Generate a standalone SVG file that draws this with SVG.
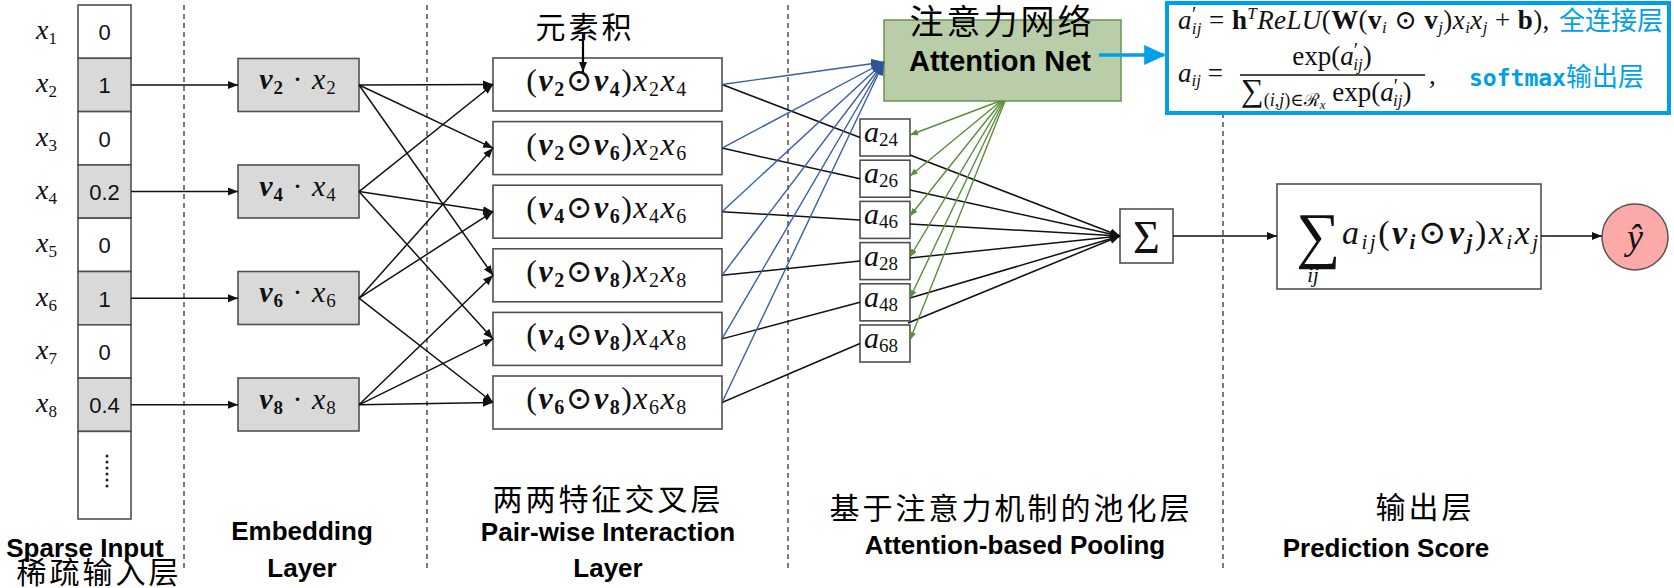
<svg xmlns="http://www.w3.org/2000/svg" width="1674" height="588" viewBox="0 0 1674 588">
<style>
.bx{fill:#fff;stroke:#505050;stroke-width:1.6}
.gr{fill:#d9d9d9;stroke:#505050;stroke-width:1.6}
.m{font-family:"Liberation Serif","DejaVu Serif",serif;font-style:italic;fill:#111}
.r{font-family:"Liberation Serif","DejaVu Serif",serif;fill:#111}
.num{font-family:"Liberation Sans",Arial,sans-serif;font-size:22px;fill:#111;text-anchor:middle}
.lab{font-family:"Liberation Sans",Arial,sans-serif;font-weight:bold;font-size:26px;fill:#000;text-anchor:middle}
.cn{font-family:"Noto Sans CJK SC",sans-serif;font-size:30px;letter-spacing:3px;fill:#000;text-anchor:middle}
.dash{stroke:#444;stroke-width:1.4;stroke-dasharray:5 4;fill:none}
.k{stroke:#111;stroke-width:1.5;fill:none}
.bl{stroke:#3a5ea5;stroke-width:1.4;fill:none}
.gn{stroke:#5b8d3b;stroke-width:1.4;fill:none}
</style>
<defs>
<marker id="ak" viewBox="0 0 10 10" refX="10" refY="5" markerWidth="10" markerHeight="10" orient="auto" markerUnits="userSpaceOnUse"><path d="M0,1 L10,5 L0,9 z" fill="#111"/></marker>
<marker id="ab" viewBox="0 0 10 10" refX="10" refY="5" markerWidth="13" markerHeight="13" orient="auto" markerUnits="userSpaceOnUse"><path d="M0,1 L10,5 L0,9 z" fill="#2f5597"/></marker>
<marker id="ag" viewBox="0 0 10 10" refX="10" refY="5" markerWidth="8" markerHeight="8" orient="auto" markerUnits="userSpaceOnUse"><path d="M0,1 L10,5 L0,9 z" fill="#5b8d3b"/></marker>
<marker id="ac" viewBox="0 0 10 10" refX="9" refY="5" markerWidth="22" markerHeight="22" orient="auto" markerUnits="userSpaceOnUse"><path d="M0,0.5 L10,5 L0,9.5 z" fill="#00a0e9"/></marker>
</defs>
<rect width="1674" height="588" fill="#fff"/>

<!-- dashed separators -->
<g id="separators">
<line class="dash" x1="184" y1="5" x2="184" y2="572"/>
<line class="dash" x1="427" y1="5" x2="427" y2="570"/>
<line class="dash" x1="788" y1="5" x2="788" y2="570"/>
<line class="dash" x1="1223" y1="113" x2="1223" y2="570"/>
</g>

<!-- sparse input -->
<g id="sparse-input">
<rect class="bx" x="78" y="5" width="53" height="53.3"/>
<rect class="gr" x="78" y="58.3" width="53" height="53.3"/>
<rect class="bx" x="78" y="111.6" width="53" height="53.3"/>
<rect class="gr" x="78" y="164.9" width="53" height="53.3"/>
<rect class="bx" x="78" y="218.2" width="53" height="53.3"/>
<rect class="gr" x="78" y="271.5" width="53" height="53.3"/>
<rect class="bx" x="78" y="324.8" width="53" height="53.3"/>
<rect class="gr" x="78" y="378.1" width="53" height="53.3"/>
<rect class="bx" x="78" y="431.4" width="53" height="87.6"/>
<line x1="107" y1="456" x2="107" y2="491" stroke="#222" stroke-width="3" stroke-dasharray="0 6" stroke-linecap="round"/>
<text class="num" x="104.5" y="40">0</text>
<text class="num" x="104.5" y="93">1</text>
<text class="num" x="104.5" y="147">0</text>
<text class="num" x="104.5" y="200">0.2</text>
<text class="num" x="104.5" y="253">0</text>
<text class="num" x="104.5" y="307">1</text>
<text class="num" x="104.5" y="360">0</text>
<text class="num" x="104.5" y="413">0.4</text>
<g class="m" font-size="28">
<text x="36" y="39">x<tspan font-size="17" font-style="normal" dy="5">1</tspan></text>
<text x="36" y="92">x<tspan font-size="17" font-style="normal" dy="5">2</tspan></text>
<text x="36" y="146">x<tspan font-size="17" font-style="normal" dy="5">3</tspan></text>
<text x="36" y="199">x<tspan font-size="17" font-style="normal" dy="5">4</tspan></text>
<text x="36" y="252">x<tspan font-size="17" font-style="normal" dy="5">5</tspan></text>
<text x="36" y="306">x<tspan font-size="17" font-style="normal" dy="5">6</tspan></text>
<text x="36" y="359">x<tspan font-size="17" font-style="normal" dy="5">7</tspan></text>
<text x="36" y="412">x<tspan font-size="17" font-style="normal" dy="5">8</tspan></text>
</g>
<text class="lab" x="85" y="557">Sparse Input</text>
<text class="cn" x="99" y="583">稀疏输入层</text>
</g>

<!-- embedding layer -->
<g id="embedding">
<rect class="gr" x="238" y="58.5" width="121" height="53"/>
<rect class="gr" x="238" y="165" width="121" height="53"/>
<rect class="gr" x="238" y="271.5" width="121" height="53"/>
<rect class="gr" x="238" y="378" width="121" height="53"/>
<g class="m" font-size="30" text-anchor="middle" letter-spacing="1">
<text x="298" y="89"><tspan font-weight="bold">v</tspan><tspan font-size="19" font-weight="bold" font-style="normal" dy="5">2</tspan><tspan dy="-5" font-style="normal"> · </tspan>x<tspan font-size="19" font-style="normal" dy="5">2</tspan></text>
<text x="298" y="196"><tspan font-weight="bold">v</tspan><tspan font-size="19" font-weight="bold" font-style="normal" dy="5">4</tspan><tspan dy="-5" font-style="normal"> · </tspan>x<tspan font-size="19" font-style="normal" dy="5">4</tspan></text>
<text x="298" y="302"><tspan font-weight="bold">v</tspan><tspan font-size="19" font-weight="bold" font-style="normal" dy="5">6</tspan><tspan dy="-5" font-style="normal"> · </tspan>x<tspan font-size="19" font-style="normal" dy="5">6</tspan></text>
<text x="298" y="409"><tspan font-weight="bold">v</tspan><tspan font-size="19" font-weight="bold" font-style="normal" dy="5">8</tspan><tspan dy="-5" font-style="normal"> · </tspan>x<tspan font-size="19" font-style="normal" dy="5">8</tspan></text>
</g>
<text class="lab" x="302" y="540">Embedding</text>
<text class="lab" x="302" y="577">Layer</text>
</g>

<!-- pair-wise interaction layer -->
<g id="interaction">
<rect class="bx" x="493" y="58" width="229" height="53"/>
<rect class="bx" x="493" y="121.6" width="229" height="53"/>
<rect class="bx" x="493" y="185.2" width="229" height="53"/>
<rect class="bx" x="493" y="248.8" width="229" height="53"/>
<rect class="bx" x="493" y="312.4" width="229" height="53"/>
<rect class="bx" x="493" y="376" width="229" height="53"/>
<g class="m" font-size="32" text-anchor="middle" letter-spacing="1.5">
<text x="607" y="91"><tspan font-style="normal">(</tspan><tspan font-weight="bold">v</tspan><tspan font-size="20" font-weight="bold" font-style="normal" dy="5">2</tspan><tspan dy="-5" font-style="normal">⊙</tspan><tspan font-weight="bold">v</tspan><tspan font-size="20" font-weight="bold" font-style="normal" dy="5">4</tspan><tspan dy="-5" font-style="normal">)</tspan>x<tspan font-size="20" font-style="normal" dy="5">2</tspan><tspan dy="-5">x</tspan><tspan font-size="20" font-style="normal" dy="5">4</tspan></text>
<text x="607" y="154.6"><tspan font-style="normal">(</tspan><tspan font-weight="bold">v</tspan><tspan font-size="20" font-weight="bold" font-style="normal" dy="5">2</tspan><tspan dy="-5" font-style="normal">⊙</tspan><tspan font-weight="bold">v</tspan><tspan font-size="20" font-weight="bold" font-style="normal" dy="5">6</tspan><tspan dy="-5" font-style="normal">)</tspan>x<tspan font-size="20" font-style="normal" dy="5">2</tspan><tspan dy="-5">x</tspan><tspan font-size="20" font-style="normal" dy="5">6</tspan></text>
<text x="607" y="218.2"><tspan font-style="normal">(</tspan><tspan font-weight="bold">v</tspan><tspan font-size="20" font-weight="bold" font-style="normal" dy="5">4</tspan><tspan dy="-5" font-style="normal">⊙</tspan><tspan font-weight="bold">v</tspan><tspan font-size="20" font-weight="bold" font-style="normal" dy="5">6</tspan><tspan dy="-5" font-style="normal">)</tspan>x<tspan font-size="20" font-style="normal" dy="5">4</tspan><tspan dy="-5">x</tspan><tspan font-size="20" font-style="normal" dy="5">6</tspan></text>
<text x="607" y="281.8"><tspan font-style="normal">(</tspan><tspan font-weight="bold">v</tspan><tspan font-size="20" font-weight="bold" font-style="normal" dy="5">2</tspan><tspan dy="-5" font-style="normal">⊙</tspan><tspan font-weight="bold">v</tspan><tspan font-size="20" font-weight="bold" font-style="normal" dy="5">8</tspan><tspan dy="-5" font-style="normal">)</tspan>x<tspan font-size="20" font-style="normal" dy="5">2</tspan><tspan dy="-5">x</tspan><tspan font-size="20" font-style="normal" dy="5">8</tspan></text>
<text x="607" y="345.4"><tspan font-style="normal">(</tspan><tspan font-weight="bold">v</tspan><tspan font-size="20" font-weight="bold" font-style="normal" dy="5">4</tspan><tspan dy="-5" font-style="normal">⊙</tspan><tspan font-weight="bold">v</tspan><tspan font-size="20" font-weight="bold" font-style="normal" dy="5">8</tspan><tspan dy="-5" font-style="normal">)</tspan>x<tspan font-size="20" font-style="normal" dy="5">4</tspan><tspan dy="-5">x</tspan><tspan font-size="20" font-style="normal" dy="5">8</tspan></text>
<text x="607" y="409"><tspan font-style="normal">(</tspan><tspan font-weight="bold">v</tspan><tspan font-size="20" font-weight="bold" font-style="normal" dy="5">6</tspan><tspan dy="-5" font-style="normal">⊙</tspan><tspan font-weight="bold">v</tspan><tspan font-size="20" font-weight="bold" font-style="normal" dy="5">8</tspan><tspan dy="-5" font-style="normal">)</tspan>x<tspan font-size="20" font-style="normal" dy="5">6</tspan><tspan dy="-5">x</tspan><tspan font-size="20" font-style="normal" dy="5">8</tspan></text>
</g>
<text class="cn" x="585" y="38">元素积</text>
<line x1="583" y1="32" x2="583" y2="72" stroke="#000" stroke-width="2.2" marker-end="url(#ak)"/>
<text class="cn" x="608" y="510">两两特征交叉层</text>
<text class="lab" x="608" y="541">Pair-wise Interaction</text>
<text class="lab" x="608" y="577">Layer</text>
</g>

<!-- attention net -->
<g id="attention-net">
<rect x="884" y="20" width="237" height="81" fill="#b8cda8" stroke="#6f9a55" stroke-width="1.6"/>
<text x="1002" y="34" font-family="'Noto Sans CJK SC',sans-serif" font-size="34" letter-spacing="3" text-anchor="middle" fill="#000">注意力网络</text>
<text class="lab" x="1000" y="71" style="font-size:29px">Attention Net</text>
</g>

<!-- attention weights -->
<g id="attention-weights">
<rect class="bx" x="860" y="119" width="50" height="37"/>
<rect class="bx" x="860" y="160.2" width="50" height="37"/>
<rect class="bx" x="860" y="201.4" width="50" height="37"/>
<rect class="bx" x="860" y="242.6" width="50" height="37"/>
<rect class="bx" x="860" y="283.8" width="50" height="37"/>
<rect class="bx" x="860" y="325" width="50" height="37"/>
<g class="m" font-size="30">
<text x="864" y="142">a<tspan font-size="19" font-style="normal" dy="4">24</tspan></text>
<text x="864" y="183.2">a<tspan font-size="19" font-style="normal" dy="4">26</tspan></text>
<text x="864" y="224.4">a<tspan font-size="19" font-style="normal" dy="4">46</tspan></text>
<text x="864" y="265.6">a<tspan font-size="19" font-style="normal" dy="4">28</tspan></text>
<text x="864" y="306.8">a<tspan font-size="19" font-style="normal" dy="4">48</tspan></text>
<text x="864" y="348">a<tspan font-size="19" font-style="normal" dy="4">68</tspan></text>
</g>
<text class="cn" x="1011" y="519">基于注意力机制的池化层</text>
<text class="lab" x="1015" y="554">Attention-based Pooling</text>
</g>

<!-- sum -->
<g id="sum">
<rect class="bx" x="1120" y="209" width="53" height="54"/>
<text class="r" x="1146.5" y="253" font-size="46" text-anchor="middle">Σ</text>
</g>

<!-- formula box -->
<g id="formula">
<rect x="1167" y="3" width="502" height="110" fill="#fff" stroke="#00a0e9" stroke-width="4"/>
<text class="r" x="1178" y="29" font-size="27" letter-spacing="0.4"><tspan font-style="italic">a</tspan><tspan font-size="20" dy="-8">′</tspan><tspan font-size="17" font-style="italic" dx="-5" dy="13">ij</tspan><tspan dy="-5"> = </tspan><tspan font-weight="bold">h</tspan><tspan font-size="17" font-style="italic" dy="-10">T</tspan><tspan font-style="italic" dy="10">ReLU</tspan>(<tspan font-weight="bold">W</tspan>(<tspan font-weight="bold">v</tspan><tspan font-size="17" font-style="italic" dy="4">i</tspan><tspan dy="-4"> ⊙ </tspan><tspan font-weight="bold">v</tspan><tspan font-size="17" font-style="italic" dy="4">j</tspan><tspan dy="-4">)</tspan><tspan font-style="italic">x</tspan><tspan font-size="17" font-style="italic" dy="4">i</tspan><tspan font-style="italic" dy="-4">x</tspan><tspan font-size="17" font-style="italic" dy="4">j</tspan><tspan dy="-4"> + </tspan><tspan font-weight="bold">b</tspan>),</text>
<text x="1559" y="30" font-family="'Noto Sans CJK SC',sans-serif" font-size="26" fill="#00a0e9">全连接层</text>
<text class="r" x="1178" y="82" font-size="27"><tspan font-style="italic">a</tspan><tspan font-size="17" font-style="italic" dy="4">ij</tspan><tspan dy="-4"> =</tspan></text>
<text class="r" x="1332" y="65" font-size="27" text-anchor="middle">exp(<tspan font-style="italic">a</tspan><tspan font-size="20" dy="-8">′</tspan><tspan font-size="17" font-style="italic" dx="-5" dy="13">ij</tspan><tspan dy="-5">)</tspan></text>
<line x1="1240" y1="75" x2="1425" y2="75" stroke="#111" stroke-width="1.3"/>
<text class="r" x="1241" y="101" font-size="27"><tspan font-size="32">∑</tspan><tspan font-size="18" dy="5">(<tspan font-style="italic">i</tspan>,<tspan font-style="italic">j</tspan>)∈ℛ</tspan><tspan font-size="13" font-style="italic" dy="3">x</tspan><tspan dy="-8"> exp(</tspan><tspan font-style="italic">a</tspan><tspan font-size="20" dy="-8">′</tspan><tspan font-size="17" font-style="italic" dx="-5" dy="13">ij</tspan><tspan dy="-5">)</tspan></text>
<text class="r" x="1429" y="84" font-size="27">,</text>
<text x="1469" y="86" fill="#00a0e9"><tspan font-family="'DejaVu Sans Mono','Liberation Mono',monospace" font-weight="bold" font-size="23">softmax</tspan><tspan font-family="'Noto Sans CJK SC',sans-serif" font-size="26">输出层</tspan></text>
</g>

<!-- prediction -->
<g id="prediction">
<rect class="bx" x="1277" y="184" width="264" height="105"/>
<text class="r" x="1296" y="256" font-size="62">∑</text>
<text class="m" x="1313" y="282" font-size="21" text-anchor="middle">ij</text>
<text class="m" x="1342" y="244" font-size="34" letter-spacing="2.5">a<tspan font-size="21" dy="5">ij</tspan><tspan font-style="normal" dy="-5">(</tspan><tspan font-weight="bold">v</tspan><tspan font-size="21" font-weight="bold" dy="5">i</tspan><tspan font-style="normal" dy="-5">⊙</tspan><tspan font-weight="bold">v</tspan><tspan font-size="21" font-weight="bold" dy="5">j</tspan><tspan font-style="normal" dy="-5">)</tspan>x<tspan font-size="21" dy="5">i</tspan><tspan dy="-5">x</tspan><tspan font-size="21" dy="5">j</tspan></text>
<text class="cn" x="1425" y="518">输出层</text>
<text class="lab" x="1386" y="557">Prediction Score</text>
</g>

<g id="output">
<circle cx="1635" cy="237" r="33" fill="#fba9a9" stroke="#555" stroke-width="1.5"/>
<text class="m" x="1635" y="249" font-size="36" text-anchor="middle">ŷ</text>
</g>

<!-- connectors -->
<g id="connectors">
<g class="k" marker-end="url(#ak)">
<line x1="131" y1="85" x2="238" y2="85"/>
<line x1="131" y1="191.6" x2="238" y2="191.6"/>
<line x1="131" y1="298.2" x2="238" y2="298.2"/>
<line x1="131" y1="404.8" x2="238" y2="404.8"/>
<line x1="359" y1="85" x2="493" y2="84.5"/>
<line x1="359" y1="85" x2="493" y2="148.1"/>
<line x1="359" y1="85" x2="493" y2="275.3"/>
<line x1="359" y1="191.6" x2="493" y2="84.5"/>
<line x1="359" y1="191.6" x2="493" y2="211.7"/>
<line x1="359" y1="191.6" x2="493" y2="338.9"/>
<line x1="359" y1="298.2" x2="493" y2="148.1"/>
<line x1="359" y1="298.2" x2="493" y2="211.7"/>
<line x1="359" y1="298.2" x2="493" y2="402.5"/>
<line x1="359" y1="404.8" x2="493" y2="275.3"/>
<line x1="359" y1="404.8" x2="493" y2="338.9"/>
<line x1="359" y1="404.8" x2="493" y2="402.5"/>
<line x1="910" y1="155" x2="1120" y2="236"/>
<line x1="910" y1="190" x2="1120" y2="236"/>
<line x1="910" y1="224" x2="1120" y2="236"/>
<line x1="910" y1="258" x2="1120" y2="236"/>
<line x1="910" y1="298" x2="1120" y2="236"/>
<line x1="908" y1="323" x2="1120" y2="236"/>
<line x1="1173" y1="236" x2="1277" y2="236"/>
<line x1="1541" y1="236" x2="1602" y2="236"/>
</g>
<g class="k">
<line x1="722" y1="84.5" x2="860" y2="137.5"/>
<line x1="722" y1="148.1" x2="860" y2="178.7"/>
<line x1="722" y1="211.7" x2="860" y2="219.9"/>
<line x1="722" y1="275.3" x2="860" y2="261.1"/>
<line x1="722" y1="338.9" x2="860" y2="302.3"/>
<line x1="722" y1="402.5" x2="860" y2="343.5"/>
</g>
<g class="bl" marker-end="url(#ab)">
<line x1="722" y1="84.5" x2="884" y2="62"/>
<line x1="722" y1="148.1" x2="884" y2="62"/>
<line x1="722" y1="211.7" x2="884" y2="62"/>
<line x1="722" y1="275.3" x2="884" y2="62"/>
<line x1="722" y1="338.9" x2="884" y2="62"/>
<line x1="722" y1="402.5" x2="884" y2="62"/>
</g>
<g class="gn" marker-end="url(#ag)">
<line x1="1000" y1="101" x2="910" y2="135"/>
<line x1="1001" y1="101" x2="910" y2="176"/>
<line x1="1002" y1="101" x2="910" y2="216"/>
<line x1="1003" y1="101" x2="910" y2="257"/>
<line x1="1004" y1="101" x2="910" y2="298"/>
<line x1="1005" y1="101" x2="910" y2="340"/>
</g>
<line x1="1099" y1="55" x2="1164" y2="55" stroke="#00a0e9" stroke-width="3.5" marker-end="url(#ac)"/>
</g>
</svg>
